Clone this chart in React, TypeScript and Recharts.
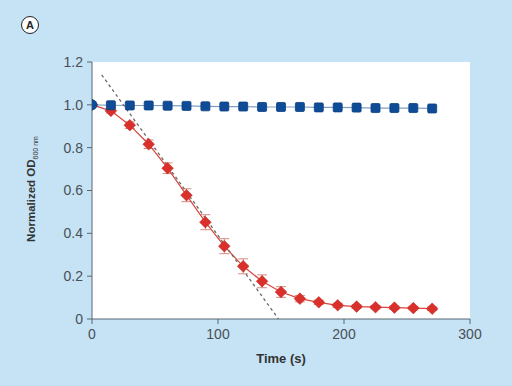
import React from "react";
import {
  ComposedChart,
  Line,
  XAxis,
  YAxis,
  ReferenceArea,
  ErrorBar,
} from "recharts";

const times = [0, 15, 30, 45, 60, 75, 90, 105, 120, 135, 150, 165, 180, 195, 210, 225, 240, 255, 270];
const controlValues = [1.0, 0.998, 0.997, 0.997, 0.996, 0.995, 0.993, 0.992, 0.992, 0.99, 0.99, 0.99, 0.988, 0.988, 0.987, 0.985, 0.985, 0.985, 0.983];
const treatedValues = [1.0, 0.972, 0.905, 0.816, 0.704, 0.578, 0.452, 0.34, 0.246, 0.176, 0.126, 0.095, 0.078, 0.064, 0.058, 0.055, 0.053, 0.051, 0.048];
const treatedErrors = [0, 0.01, 0.015, 0.02, 0.025, 0.03, 0.035, 0.035, 0.035, 0.03, 0.025, 0.015, 0.01, 0.01, 0.008, 0.008, 0.008, 0.008, 0.008];
const fitTimes = [7.7, 148];
const fitValues = [1.14, 0];
const xTicks = [0, 100, 200, 300];
const yTicks = [0, 0.2, 0.4, 0.6, 0.8, 1.0, 1.2];

const controlData = times.map((t, i) => ({ t, v: controlValues[i] }));
const treatedData = times.map((t, i) => ({ t, v: treatedValues[i], err: treatedErrors[i] }));
const fitData = fitTimes.map((t, i) => ({ t, v: fitValues[i] }));

const FONT = "'Liberation Sans', Arial, Helvetica, sans-serif";
const BG = "#c5e3f5";

const SquareDot = (props: any) => {
  const { cx, cy, index } = props;
  if (cx == null || cy == null) return null;
  if (index === 0) {
    return <circle key={`c${index}`} cx={cx} cy={cy} r={5} fill="#0f4c97" stroke="#0a3f80" strokeWidth={0.8} />;
  }
  return <rect key={`s${index}`} x={cx - 4.5} y={cy - 4.5} width={9} height={9} rx={1.2} fill="#0f4c97" stroke="#0a3f80" strokeWidth={0.8} />;
};

const DiamondDot = (props: any) => {
  const { cx, cy, index } = props;
  if (cx == null || cy == null) return null;
  const r = 5.8;
  return (
    <polygon
      key={`d${index}`}
      points={`${cx},${cy - r} ${cx + r},${cy} ${cx},${cy + r} ${cx - r},${cy}`}
      fill="#d9302b"
      stroke="#c42520"
      strokeWidth={0.6}
    />
  );
};

const YLabel = (props: any) => {
  const cx = 31;
  const cy = 189;
  return (
    <text
      x={cx}
      y={cy}
      transform={`rotate(-90 ${cx} ${cy})`}
      textAnchor="middle"
      dominantBaseline="central"
      fontFamily={FONT}
      fontWeight="bold"
      fontSize={11.5}
      fill="#333"
    >
      <tspan>Normalized OD</tspan>
      <tspan fontSize={7} fontWeight="normal" dy={4}>600 nm</tspan>
    </text>
  );
};

const yFmt = (v: number) => (v === 0 ? "0" : v.toFixed(1));

export default function App() {
  return (
    <div style={{ position: "absolute", left: 0, top: 0, width: 512, height: 386, background: BG }}>
      <ComposedChart
        width={512}
        height={386}
        margin={{ top: 62, right: 42, left: 52, bottom: 37 }}
        style={{ position: "absolute", left: 0, top: 0 }}
      >
        <XAxis
          dataKey="t"
          type="number"
          domain={[0, 300]}
          ticks={xTicks}
          allowDataOverflow
          height={30}
          stroke="#5a6670"
          tickLine={{ stroke: "#5a6670" }}
          tickSize={5}
          tickMargin={5}
          tick={{ fill: "#4a4f55", fontFamily: FONT, fontSize: 14 }}
          label={{
            value: "Time (s)",
            position: "insideBottom",
            offset: -14,
            fill: "#333",
            fontFamily: FONT,
            fontWeight: "bold",
            fontSize: 13,
          }}
        />
        <YAxis
          type="number"
          domain={[0, 1.2]}
          ticks={yTicks}
          tickFormatter={yFmt}
          width={40}
          stroke="#5a6670"
          tickLine={{ stroke: "#5a6670" }}
          tickSize={5}
          tickMargin={4}
          tick={{ fill: "#4a4f55", fontFamily: FONT, fontSize: 14 }}
          label={<YLabel />}
        />
        <ReferenceArea x1={0} x2={300} y1={0} y2={1.2} fill="#ffffff" fillOpacity={1} stroke="none" ifOverflow="hidden" />
        <Line
          data={treatedData}
          dataKey="v"
          stroke="#d9453c"
          strokeWidth={1.2}
          dot={<DiamondDot />}
          activeDot={false}
          isAnimationActive={false}
        >
          <ErrorBar dataKey="err" direction="y" width={5} stroke="#d88a80" strokeWidth={1} />
        </Line>
        <Line
          data={controlData}
          dataKey="v"
          stroke="#7f9fc2"
          strokeWidth={1.2}
          dot={<SquareDot />}
          activeDot={false}
          isAnimationActive={false}
        />
        <Line
          data={fitData}
          dataKey="v"
          stroke="#6a6a6a"
          strokeWidth={1.3}
          strokeDasharray="3 3"
          dot={false}
          activeDot={false}
          isAnimationActive={false}
        />
      </ComposedChart>
      <div
        style={{
          position: "absolute",
          left: 21,
          top: 16,
          width: 16,
          height: 16,
          borderRadius: "50%",
          border: "1.5px solid #222",
          background: "#fff",
          fontFamily: FONT,
          fontWeight: "bold",
          fontSize: 11,
          lineHeight: "16px",
          textAlign: "center",
          color: "#222",
        }}
      >
        A
      </div>
    </div>
  );
}
